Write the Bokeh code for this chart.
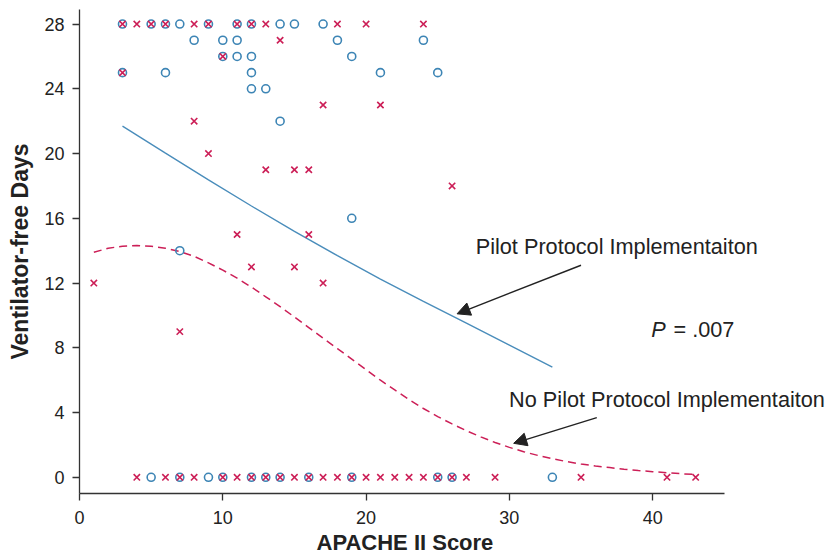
from bokeh.plotting import figure
from bokeh.models import Range1d, Label, Arrow, NormalHead, FixedTicker, Title
from bokeh.embed import file_html
from bokeh.resources import INLINE

# ---- data ----
# Pilot protocol implementation (blue circles)
pilot_x = [3, 5, 6, 7, 9, 11, 12, 14, 15, 17,
           8, 10, 11, 18, 24,
           10, 11, 12, 19,
           3, 6, 12, 21, 25,
           12, 13,
           14, 19, 7,
           5, 7, 9, 10, 12, 13, 14, 16, 19, 25, 26, 33]
pilot_y = [28, 28, 28, 28, 28, 28, 28, 28, 28, 28,
           27, 27, 27, 27, 27,
           26, 26, 26, 26,
           25, 25, 25, 25, 25,
           24, 24,
           22, 16, 14,
           0, 0, 0, 0, 0, 0, 0, 0, 0, 0, 0, 0]

# No pilot protocol implementation (red crosses)
nopilot_x = [3, 4, 5, 6, 8, 9, 11, 12, 13, 18, 20, 24,
             14, 10, 3, 17, 21, 8, 9, 13, 15, 16, 26,
             11, 16, 12, 15, 1, 17, 7,
             4, 6, 7, 8, 10, 11, 12, 13, 14, 15, 16, 17, 18, 19, 20,
             21, 22, 23, 24, 25, 26, 27, 29, 35, 41, 43]
nopilot_y = [28, 28, 28, 28, 28, 28, 28, 28, 28, 28, 28, 28,
             27, 26, 25, 23, 23, 22, 20, 19, 19, 19, 18,
             15, 15, 13, 13, 12, 12, 9,
             0, 0, 0, 0, 0, 0, 0, 0, 0, 0, 0, 0, 0, 0, 0,
             0, 0, 0, 0, 0, 0, 0, 0, 0, 0, 0]

# fitted curves
pilot_curve_x = [3, 6, 9, 12, 15, 18, 21, 24, 27, 30, 33]
pilot_curve_y = [21.7, 20.03, 18.38, 16.76, 15.19, 13.69, 12.25, 10.87, 9.52, 8.17, 6.8]
nopilot_curve_x = [1, 2, 3, 4, 5, 6, 7, 8, 9, 10, 11, 12, 13, 14, 15, 16, 17, 18, 19, 20, 21,
                   22, 23, 24, 25, 26, 27, 28, 29, 30, 31, 32, 33, 34, 35, 36, 37, 38, 39, 40,
                   41, 42, 43]
nopilot_curve_y = [13.9, 14.15, 14.28, 14.32, 14.28, 14.15, 13.95, 13.65, 13.25, 12.8, 12.3,
                   11.75, 11.15, 10.55, 9.9, 9.25, 8.6, 7.95, 7.3, 6.65, 6.0, 5.4, 4.8, 4.25,
                   3.75, 3.3, 2.88, 2.5, 2.15, 1.85, 1.58, 1.35, 1.15, 0.97, 0.82, 0.7, 0.6,
                   0.5, 0.42, 0.35, 0.28, 0.22, 0.17]

x_ticks = [0, 10, 20, 30, 40]
y_ticks = [0, 4, 8, 12, 16, 20, 24, 28]
x_axis_extent = (0, 45)

x_title = "APACHE II Score"
y_title = "Ventilator-free Days"
label_pilot = "Pilot Protocol Implementaiton"
label_nopilot = "No Pilot Protocol Implementaiton"
p_value_text = "= .007"

# annotation placement (data units)
pilot_label_pos = (27.65, 14.26)
nopilot_label_pos = (29.98, 4.81)
p_label_pos = (39.9, 9.14)
p_rest_pos = (41.45, 9.14)
pilot_arrow = (35.0, 13.1, 26.35, 10.1)
nopilot_arrow = (36.1, 3.69, 30.3, 2.1)

BLUE = "#3d85b5"
RED = "#cc1f57"
FONT = "Liberation Sans"

p = figure(width=828, height=559, output_backend="svg", toolbar_location=None,
           x_range=Range1d(0, 52.27), y_range=Range1d(-1, 28.9),
           min_border_left=79, min_border_right=0, min_border_top=9, min_border_bottom=66)
p.outline_line_color = None
p.grid.visible = False
p.background_fill_color = "white"
p.border_fill_color = "white"

p.line(pilot_curve_x, pilot_curve_y, line_color="#4a8dbb", line_width=1.4)
p.line(nopilot_curve_x, nopilot_curve_y, line_color=RED, line_width=1.5, line_dash="8 5")

p.scatter(pilot_x, pilot_y, marker="circle", size=8, fill_color=None,
          line_color=BLUE, line_width=1.6)
p.scatter(nopilot_x, nopilot_y, marker="x", size=9, line_color=RED, line_width=1.6)

for ax in (p.xaxis[0], p.yaxis[0]):
    ax.axis_line_color = "#333333"
    ax.axis_line_width = 1.3
    ax.major_tick_line_color = "#333333"
    ax.major_tick_line_width = 1.3
    ax.major_tick_out = 7
    ax.major_tick_in = 0
    ax.minor_tick_line_color = None
    ax.major_label_text_font = FONT
    ax.major_label_text_font_size = "18px"
    ax.major_label_text_color = "#222222"
    ax.axis_label_text_font = FONT
    ax.axis_label_text_font_style = "bold"
    ax.axis_label_text_color = "#222222"

p.xaxis.bounds = x_axis_extent
p.xaxis.ticker = FixedTicker(ticks=x_ticks)
p.yaxis.ticker = FixedTicker(ticks=y_ticks)
p.yaxis.axis_label = y_title
p.yaxis.axis_label_text_font_size = "23px"
p.xaxis.major_label_standoff = 10
p.yaxis.major_label_standoff = 8
p.yaxis.axis_label_standoff = 8

# x-axis title placed under the axis extent (not the whole frame)
p.add_layout(Title(text=x_title, align="left", offset=237, standoff=3,
                   text_font=FONT, text_font_size="22px", text_font_style="bold",
                   text_color="#222222"), "below")

for txt, pos, style in ((label_pilot, pilot_label_pos, "normal"),
                        (label_nopilot, nopilot_label_pos, "normal"),
                        ("P", p_label_pos, "italic"),
                        (p_value_text, p_rest_pos, "normal")):
    p.add_layout(Label(x=pos[0], y=pos[1], text=txt, text_font=FONT,
                       text_font_size="21.7px", text_font_style=style,
                       text_color="#222222", text_baseline="middle", text_align="left"))

for (xs, ys, xe, ye) in (pilot_arrow, nopilot_arrow):
    p.add_layout(Arrow(x_start=xs, y_start=ys, x_end=xe, y_end=ye,
                       line_color="#222222", line_width=1.4,
                       end=NormalHead(size=13, fill_color="#222222", line_color="#222222",
                                      line_width=1)))

open("out.html", "w").write(file_html(p, INLINE))
